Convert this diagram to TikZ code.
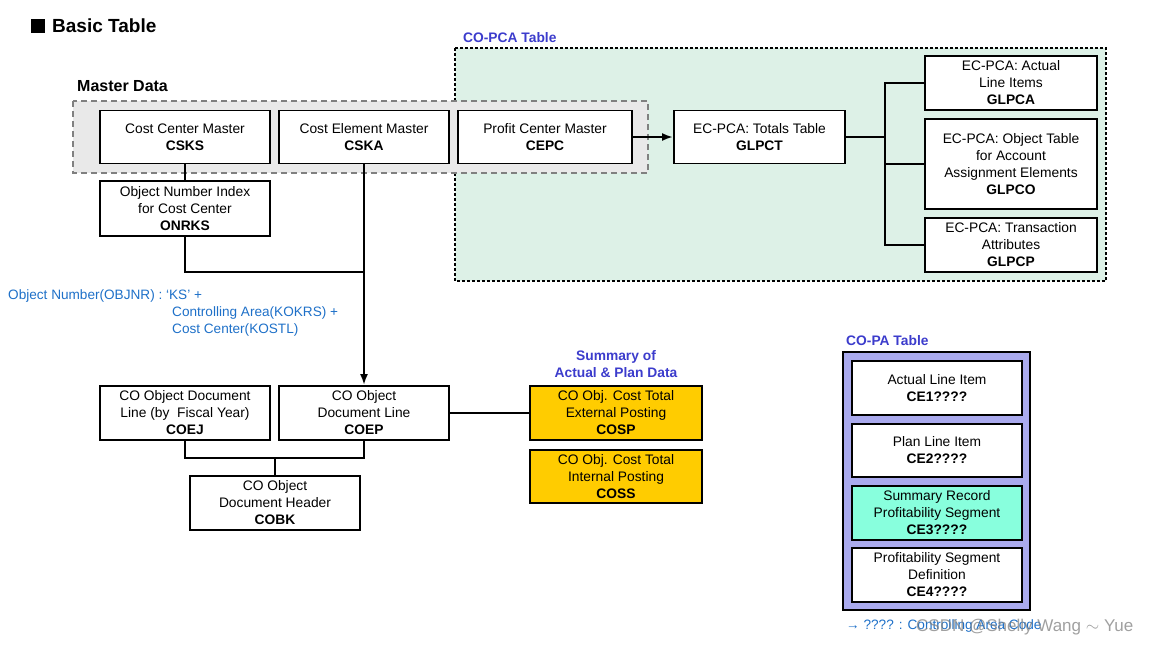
\documentclass[tikz,border=0pt]{standalone}
\usepackage{fontspec}
\setmainfont{Liberation Sans}
\usetikzlibrary{arrows.meta}
\definecolor{hdrblue}{HTML}{3C3CCC}
\definecolor{txtblue}{HTML}{1E70C8}
\definecolor{pcafill}{HTML}{DDF1E7}
\definecolor{gold}{HTML}{FFCC00}
\definecolor{lav}{HTML}{AAAAEE}
\definecolor{aqua}{HTML}{88FFDD}
\tikzset{
  tbl/.style={draw=black, line width=1.9pt, fill=white, inner sep=0pt, align=center,
    font=\fontsize{13.8}{17}\selectfont, minimum width=170pt, minimum height=53pt},
  conn/.style={line width=2pt},
  hdr/.style={font=\fontsize{13.8}{17}\selectfont\bfseries, text=hdrblue, inner sep=0pt},
  note/.style={font=\fontsize{13.6}{17}\selectfont, text=txtblue, inner sep=0pt, anchor=west}
}
\begin{document}
\begin{tikzpicture}[x=1pt,y=-1pt]
\useasboundingbox (0,0) rectangle (1160,646);
% title
\fill (31,19) rectangle (45,33);
\node[anchor=west, inner sep=0pt, font=\fontsize{19}{22}\selectfont\bfseries] (title) at (52,26) {Basic Table};
% CO-PCA area
\node[hdr, anchor=west] (pcalbl) at (463,38) {CO-PCA Table};
\draw[dash pattern=on 3pt off 2pt, line width=1.5pt, fill=pcafill] (455,48) rectangle (1106,281);
% Master data area
\node[anchor=west, inner sep=0pt, font=\fontsize{16}{19}\selectfont\bfseries] (mdlbl) at (77,86) {Master Data};
\draw[dash pattern=on 6pt off 4pt, draw=gray, line width=1.8pt, fill=gray!17] (73,101) rectangle (648,173);
% master nodes
\node[tbl] (csks) at (185,137) {Cost Center Master\\\textbf{CSKS}};
\node[tbl] (cska) at (364,137) {Cost Element Master\\\textbf{CSKA}};
\node[tbl, minimum width=174pt] (cepc) at (545,137) {Profit Center Master\\\textbf{CEPC}};
\node[tbl, minimum width=171pt] (glpct) at (759.5,137) {EC-PCA: Totals Table\\\textbf{GLPCT}};
\node[tbl, minimum width=172pt, minimum height=54pt] (glpca) at (1011,83) {EC-PCA: Actual\\Line Items\\\textbf{GLPCA}};
\node[tbl, minimum width=172pt, minimum height=90pt] (glpco) at (1011,164) {EC-PCA: Object Table\\for Account\\Assignment Elements\\\textbf{GLPCO}};
\node[tbl, minimum width=172pt, minimum height=54pt] (glpcp) at (1011,245) {EC-PCA: Transaction\\Attributes\\\textbf{GLPCP}};
\node[tbl, minimum height=55pt] (onrks) at (185,208.5) {Object Number Index\\for Cost Center\\\textbf{ONRKS}};
% document nodes
\node[tbl, minimum height=54pt] (coej) at (185,413) {CO Object Document\\Line (by\ \ Fiscal Year)\\\textbf{COEJ}};
\node[tbl, minimum height=54pt] (coep) at (364,413) {CO Object\\Document Line\\\textbf{COEP}};
\node[tbl, minimum height=54pt] (cobk) at (275,503) {CO Object\\Document Header\\\textbf{COBK}};
\node[tbl, fill=gold, minimum width=172pt, minimum height=54pt] (cosp) at (616,413) {CO Obj. Cost Total\\External Posting\\\textbf{COSP}};
\node[tbl, fill=gold, minimum width=172pt] (coss) at (616,476.5) {CO Obj. Cost Total\\Internal Posting\\\textbf{COSS}};
\node[hdr, align=center] (sumlbl) at (616,364.5) {Summary of\\Actual \& Plan Data};
% notes
\node[note] (n1) at (8,296) {Object Number(OBJNR) : ‘KS’ +};
\node[note] (n2) at (172,313) {Controlling Area(KOKRS) +};
\node[note] (n3) at (172,330) {Cost Center(KOSTL)};
% CO-PA
\node[hdr, anchor=west] (palbl) at (846,341) {CO-PA Table};
\draw[line width=1.9pt, fill=lav] (843,352) rectangle (1030,610);
\node[tbl, minimum height=54pt] (ce1) at (937,388) {Actual Line Item\\\textbf{CE1????}};
\node[tbl] (ce2) at (937,450.5) {Plan Line Item\\\textbf{CE2????}};
\node[tbl, fill=aqua, minimum height=54pt] (ce3) at (937,513) {Summary Record\\Profitability Segment\\\textbf{CE3????}};
\node[tbl, minimum height=54pt] (ce4) at (937,575) {Profitability Segment\\Definition\\\textbf{CE4????}};
\node[note] (n4) at (846,626) {→ ???? : Controlling Area Code};
\node[anchor=west, inner sep=0pt, text=gray, opacity=0.75, font=\fontsize{17}{20}\selectfont] (wm) at (916,627) {CSDN @Shelly Wang $\sim$ Yue};
% connectors
\coordinate (j1) at (364,272);
\coordinate (trunk) at (885,137);
\coordinate (j2) at (275,458);
\draw[conn] (csks.south) -- (onrks.north);
\draw[conn] (onrks.south) |- (j1);
\draw[conn, -{Latex[length=11pt,width=8pt]}] (cska.south) -- (coep.north);
\draw[conn, -{Latex[length=11pt,width=8pt]}] (cepc.east) -- (glpct.west);
\draw[conn] (glpct.east) -- (trunk);
\draw[conn] (glpca.west) -| (trunk) |- (glpcp.west);
\draw[conn] (glpco.west) -- (glpco.west -| trunk);
\draw[conn] (coej.south) |- (coep.south |- j2) -- (coep.south);
\draw[conn] (j2) -- (cobk.north);
\draw[conn] (coep.east) -- (cosp.west);
\end{tikzpicture}
\end{document}
